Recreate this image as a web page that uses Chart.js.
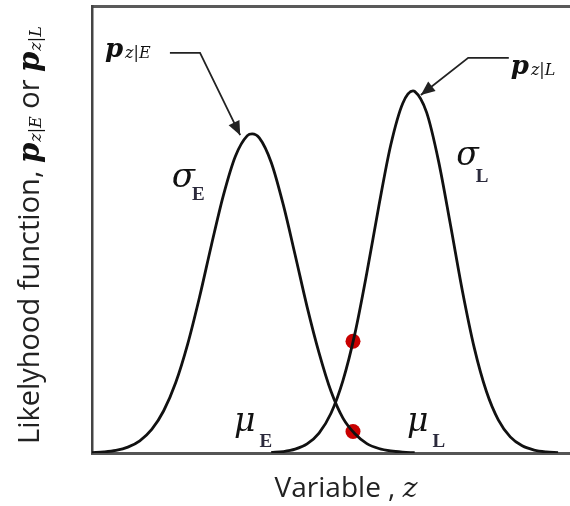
<!DOCTYPE html>
<html>
<head>
<meta charset="utf-8">
<script src="https://cdn.jsdelivr.net/npm/chart.js@4.4.1/dist/chart.umd.min.js"></script>
<style>
  html, body { margin: 0; padding: 0; background: #fff; overflow: hidden; }
  #wrap { position: relative; width: 570px; height: 506px; }
</style>
</head>
<body>
<div id="wrap"><canvas id="c" width="570" height="506"></canvas></div>
<script>
// Likelihood of z under class E
const zE = [0, 0.25, 0.5, 0.75, 1.0, 1.25, 1.5, 1.75, 2.0, 2.25, 2.5, 2.75, 3.0, 3.25, 3.35,
            3.5, 3.75, 4.0, 4.25, 4.5, 4.75, 5.0, 5.25, 5.5, 5.75, 6.0, 6.25, 6.5, 6.75];
const pE = [0.0009, 0.0025, 0.0059, 0.0132, 0.0274, 0.0528, 0.0945, 0.157, 0.243, 0.349, 0.466, 0.577, 0.664, 0.710, 0.714,
            0.705, 0.650, 0.556, 0.443, 0.327, 0.224, 0.138, 0.078, 0.043, 0.021, 0.010, 0.0045, 0.0019, 0.0007];

// Likelihood of z under class L
const zL = [3.75, 4.0, 4.25, 4.5, 4.75, 5.0, 5.25, 5.5, 5.75, 6.0, 6.25, 6.5, 6.715, 6.75,
            7.0, 7.25, 7.5, 7.75, 8.0, 8.25, 8.5, 8.75, 9.0, 9.25, 9.5, 9.75];
const pL = [0.0011, 0.0032, 0.0085, 0.0204, 0.0446, 0.089, 0.162, 0.267, 0.403, 0.552, 0.689, 0.782, 0.810, 0.809,
            0.762, 0.653, 0.510, 0.362, 0.234, 0.138, 0.074, 0.036, 0.016, 0.0065, 0.0024, 0.0008];

// The two likelihoods evaluated at one observed z
const zObs = [5.46, 5.46];
const pObs = [0.25, 0.048];

// Axis extents
const zRange = [0, 10];
const pRange = [0, 1];

const toPoints = (xs, ys) => xs.map((x, i) => ({ x: x, y: ys[i] }));

const SANS = '"Open Sans", "Noto Sans", sans-serif';
const SERIF = '"DejaVu Serif", serif';
const ROMAN = '"Liberation Serif", serif';
const INK = '#111';
const SUBINK = '#2b2a3c';

function drawRuns(ctx, x, y, runs) {
  let cx = x;
  for (const r of runs) {
    ctx.font = r.font;
    ctx.fillStyle = r.color || INK;
    const dx = r.dx || 0;
    ctx.fillText(r.text, cx + dx, y + (r.dy || 0));
    cx += dx + ctx.measureText(r.text).width;
  }
  return cx - x;
}
function runsWidth(ctx, runs) {
  let w = 0;
  for (const r of runs) { ctx.font = r.font; w += (r.dx || 0) + ctx.measureText(r.text).width; }
  return w;
}
function arrow(ctx, pts, color) {
  ctx.save();
  ctx.strokeStyle = color; ctx.fillStyle = color; ctx.lineWidth = 1.8;
  ctx.beginPath();
  ctx.moveTo(pts[0][0], pts[0][1]);
  for (let i = 1; i < pts.length; i++) ctx.lineTo(pts[i][0], pts[i][1]);
  ctx.stroke();
  const [ax, ay] = pts[pts.length - 2];
  const [bx, by] = pts[pts.length - 1];
  const ang = Math.atan2(by - ay, bx - ax);
  const len = 14, half = 6;
  ctx.beginPath();
  ctx.moveTo(bx, by);
  ctx.lineTo(bx - len * Math.cos(ang) + half * Math.sin(ang), by - len * Math.sin(ang) - half * Math.cos(ang));
  ctx.lineTo(bx - len * Math.cos(ang) - half * Math.sin(ang), by - len * Math.sin(ang) + half * Math.cos(ang));
  ctx.closePath();
  ctx.fill();
  ctx.restore();
}

const pRuns = (sub) => [
  { text: 'p', font: 'bold italic 26px ' + SERIF },
  { text: sub, font: 'italic 16px ' + SERIF, dx: 2, dy: 1 }
];

const annotations = {
  id: 'annotations',
  afterDraw(chart) {
    const ctx = chart.ctx;
    const X = v => chart.scales.x.getPixelForValue(v);
    const Y = v => chart.scales.y.getPixelForValue(v);
    ctx.save();
    ctx.textBaseline = 'alphabetic';
    ctx.textAlign = 'left';

    // curve labels with leader arrows
    drawRuns(ctx, X(0.27), Y(0.886), pRuns('z|E'));
    arrow(ctx, [[X(1.63), Y(0.895)], [X(2.26), Y(0.895)], [X(3.10), Y(0.711)]], '#222');
    drawRuns(ctx, X(8.76), Y(0.847), pRuns('z|L'));
    arrow(ctx, [[X(8.72), Y(0.884)], [X(7.87), Y(0.884)], [X(6.88), Y(0.801)]], '#222');

    // spreads
    drawRuns(ctx, X(1.67), Y(0.595), [
      { text: 'σ', font: 'italic 34px ' + SERIF },
      { text: 'E', font: 'bold 19px ' + ROMAN, dx: -3, dy: 13, color: SUBINK }
    ]);
    drawRuns(ctx, X(7.62), Y(0.644), [
      { text: 'σ', font: 'italic 33px ' + SERIF },
      { text: 'L', font: 'bold 19px ' + ROMAN, dx: -3, dy: 17, color: SUBINK }
    ]);

    // means
    drawRuns(ctx, X(2.97), Y(0.05), [
      { text: 'μ', font: 'italic 33px ' + SERIF },
      { text: 'E', font: 'bold 19px ' + ROMAN, dx: 4, dy: 16, color: SUBINK }
    ]);
    drawRuns(ctx, X(6.59), Y(0.05), [
      { text: 'μ', font: 'italic 33px ' + SERIF },
      { text: 'L', font: 'bold 19px ' + ROMAN, dx: 4, dy: 16, color: SUBINK }
    ]);

    // x-axis title
    const xRuns = [
      { text: 'Variable , ', font: '28px ' + SANS, color: '#222' },
      { text: 'z', font: 'italic 28px ' + SERIF, color: '#222' }
    ];
    const wx = runsWidth(ctx, xRuns);
    drawRuns(ctx, 346 - wx / 2, 497, xRuns);

    // y-axis title, rotated
    const yRuns = [
      { text: 'Likelyhood function, ', font: '29px ' + SANS, color: '#222' },
      { text: 'p', font: 'bold italic 29px ' + SERIF },
      { text: 'z|E', font: 'italic 16px ' + SERIF, dx: 1, dy: 2 },
      { text: ' or ', font: '29px ' + SANS, color: '#222' },
      { text: 'p', font: 'bold italic 29px ' + SERIF },
      { text: 'z|L', font: 'italic 16px ' + SERIF, dx: 1, dy: 2 }
    ];
    ctx.translate(39, 444);
    ctx.rotate(-Math.PI / 2);
    drawRuns(ctx, 0, 0, yRuns);
    ctx.restore();
  }
};

const hideH = s => { s.height = 0; };
const hideW = s => { s.width = 0; };

new Chart(document.getElementById('c'), {
  type: 'scatter',
  data: {
    datasets: [
      { label: 'p(z|E)', data: toPoints(zE, pE), showLine: true, borderColor: INK, borderWidth: 2.8,
        pointRadius: 0, cubicInterpolationMode: 'monotone', fill: false },
      { label: 'p(z|L)', data: toPoints(zL, pL), showLine: true, borderColor: INK, borderWidth: 2.8,
        pointRadius: 0, cubicInterpolationMode: 'monotone', fill: false },
      { label: 'observed', data: toPoints(zObs, pObs), showLine: false, pointRadius: 7.5,
        pointBackgroundColor: '#c80000', pointBorderColor: '#c80000', pointBorderWidth: 0, clip: false }
    ]
  },
  options: {
    responsive: false,
    animation: false,
    events: [],
    layout: { autoPadding: false, padding: { left: 92, top: 6, right: 0, bottom: 53 } },
    plugins: { legend: { display: false }, tooltip: { enabled: false } },
    scales: {
      x: {
        type: 'linear', position: 'bottom', min: zRange[0], max: zRange[1],
        grid: { display: false, drawTicks: false },
        ticks: { display: false },
        border: { display: true, color: '#555', width: 3 },
        afterFit: hideH
      },
      xTop: {
        axis: 'x', type: 'linear', position: 'top', min: zRange[0], max: zRange[1],
        grid: { display: false, drawTicks: false },
        ticks: { display: false },
        border: { display: true, color: '#5a5a5a', width: 3 },
        afterFit: hideH
      },
      y: {
        type: 'linear', position: 'left', min: pRange[0], max: pRange[1],
        grid: { display: false, drawTicks: false },
        ticks: { display: false },
        border: { display: true, color: '#444', width: 2.5 },
        afterFit: hideW
      }
    }
  },
  plugins: [annotations]
});
</script>
</body>
</html>
